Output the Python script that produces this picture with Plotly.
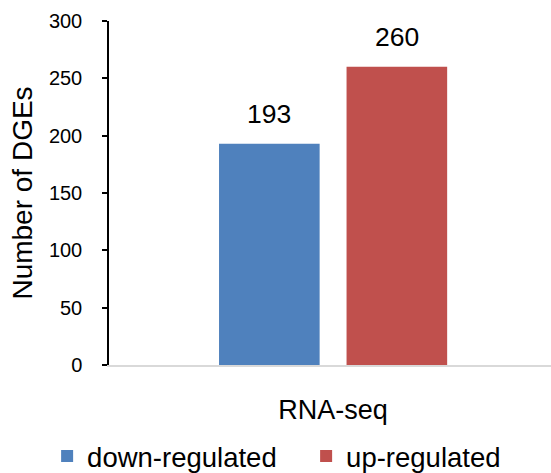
import plotly.graph_objects as go

categories = ["RNA-seq"]
series_names = ["down-regulated", "up-regulated"]
down_values = [193]
up_values = [260]
colors = ["#4F81BD", "#C0504D"]
y_ticks = [0, 50, 100, 150, 200, 250, 300]

FONT = "Liberation Sans, Arial, sans-serif"

fig = go.Figure()
fig.add_trace(go.Bar(x=categories, y=down_values, name=series_names[0],
                     marker=dict(color=colors[0], line=dict(width=0))))
fig.add_trace(go.Bar(x=categories, y=up_values, name=series_names[1],
                     marker=dict(color=colors[1], line=dict(width=0))))

for vals, shift in [(down_values, -64), (up_values, 64)]:
    for c, v in zip(categories, vals):
        fig.add_annotation(x=c, y=v, text=str(v), showarrow=False,
                           xshift=shift, yanchor="bottom", yshift=13,
                           font=dict(size=26.5, color="black", family=FONT))

fig.update_layout(
    width=551, height=473,
    margin=dict(l=109, r=0, t=21, b=108, autoexpand=False),
    paper_bgcolor="white", plot_bgcolor="white",
    barmode="group", bargap=0.423, bargroupgap=0.211,
    font=dict(family=FONT, color="black"),
    showlegend=True,
    legend=dict(orientation="h", x=-0.14, xanchor="left", y=-0.265, yanchor="middle",
                font=dict(size=27.5, color="black"), itemwidth=30,
                entrywidth=214, entrywidthmode="pixels",
                tracegroupgap=0, traceorder="normal"),
    xaxis=dict(range=[-0.507, 0.493], showline=True, linecolor="#D9D9D9", linewidth=2,
               ticks="", tickfont=dict(size=27, color="black"), ticklabelstandoff=20,
               showgrid=False, automargin=False),
    yaxis=dict(range=[0, 300], tickvals=y_ticks, showline=True, linecolor="black",
               linewidth=1.5, ticks="outside", ticklen=5, tickcolor="black", tickwidth=1.5,
               tickfont=dict(size=20, color="black"), showgrid=False, zeroline=False,
               ticklabelstandoff=16, automargin=False,
               title=dict(text="Number of DGEs", font=dict(size=28, color="black"), standoff=8)),
)

fig.write_html("out.html", config={"displayModeBar": False},
               post_script="document.body.style.margin='0';document.body.style.overflow='hidden';")
